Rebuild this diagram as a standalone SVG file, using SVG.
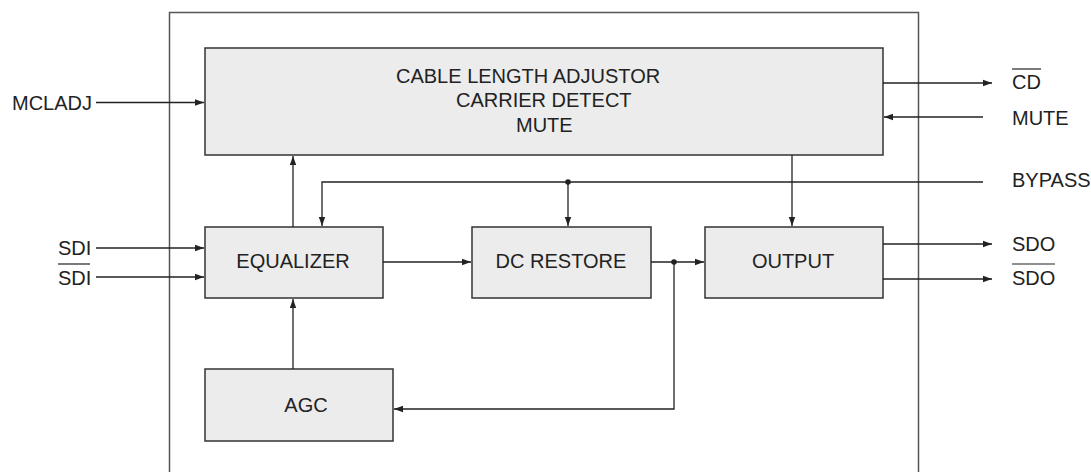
<svg xmlns="http://www.w3.org/2000/svg" width="1091" height="472" viewBox="0 0 1091 472">
<style>
.box{fill:#ececec;stroke:#333;stroke-width:1.5}
.w{fill:none;stroke:#222;stroke-width:1.3}
.t{font-family:"Liberation Sans",Arial,sans-serif;font-size:20px;fill:#222}
.bar{stroke:#222;stroke-width:1.2}
</style>
<defs>
<marker id="ah" markerUnits="userSpaceOnUse" markerWidth="10" markerHeight="8" refX="9" refY="4" orient="auto">
<path d="M0,0.8 L9,4 L0,7.2 Z" fill="#222"/>
</marker>
</defs>
<rect width="1091" height="472" fill="#fff"/>
<path d="M169.5,480 V12.5 H918.5 V480" fill="none" stroke="#555" stroke-width="1.5"/>
<g id="top-block">
<rect class="box" x="205" y="48" width="678" height="107"/>
<text class="t" x="396" y="83">CABLE LENGTH ADJUSTOR</text>
<text class="t" x="456" y="107">CARRIER DETECT</text>
<text class="t" x="516" y="132">MUTE</text>
</g>
<g id="equalizer">
<rect class="box" x="205" y="227" width="178" height="71"/>
<text class="t" x="293" y="268" text-anchor="middle">EQUALIZER</text>
</g>
<g id="dc-restore">
<rect class="box" x="472" y="227" width="179" height="71"/>
<text class="t" x="561" y="268" text-anchor="middle">DC RESTORE</text>
</g>
<g id="output">
<rect class="box" x="705" y="227" width="178" height="71"/>
<text class="t" x="793" y="268" text-anchor="middle">OUTPUT</text>
</g>
<g id="agc">
<rect class="box" x="205" y="369" width="188" height="72"/>
<text class="t" x="306" y="412" text-anchor="middle">AGC</text>
</g>
<g id="labels">
<text class="t" x="12" y="110">MCLADJ</text>
<text class="t" x="58" y="255">SDI</text>
<text class="t" x="58" y="285">SDI</text>
<line class="bar" x1="58" y1="264" x2="90" y2="264"/>
<text class="t" x="1012" y="89">CD</text>
<line class="bar" x1="1012" y1="69" x2="1041" y2="69"/>
<text class="t" x="1012" y="125">MUTE</text>
<text class="t" x="1012" y="187">BYPASS</text>
<text class="t" x="1012" y="251">SDO</text>
<text class="t" x="1012" y="285">SDO</text>
<line class="bar" x1="1012" y1="264" x2="1055" y2="264"/>
</g>
<g id="connectors">
<path class="w" d="M96,102.5 H204" marker-end="url(#ah)"/>
<path class="w" d="M883,83 H992" marker-end="url(#ah)"/>
<path class="w" d="M983,117 H884" marker-end="url(#ah)"/>
<path class="w" d="M983,182 H322 V226" marker-end="url(#ah)"/>
<path class="w" d="M568,182 V226" marker-end="url(#ah)"/>
<circle cx="568" cy="182" r="2.8" fill="#222"/>
<path class="w" d="M792,155 V226" marker-end="url(#ah)"/>
<path class="w" d="M293,227 V156" marker-end="url(#ah)"/>
<path class="w" d="M96,248 H204" marker-end="url(#ah)"/>
<path class="w" d="M96,277 H204" marker-end="url(#ah)"/>
<path class="w" d="M383,262 H471" marker-end="url(#ah)"/>
<path class="w" d="M651,262 H704" marker-end="url(#ah)"/>
<circle cx="674" cy="262" r="2.8" fill="#222"/>
<path class="w" d="M674,262 V409 H394" marker-end="url(#ah)"/>
<path class="w" d="M293,369 V299" marker-end="url(#ah)"/>
<path class="w" d="M883,244 H992" marker-end="url(#ah)"/>
<path class="w" d="M883,279 H992" marker-end="url(#ah)"/>
</g>
</svg>
